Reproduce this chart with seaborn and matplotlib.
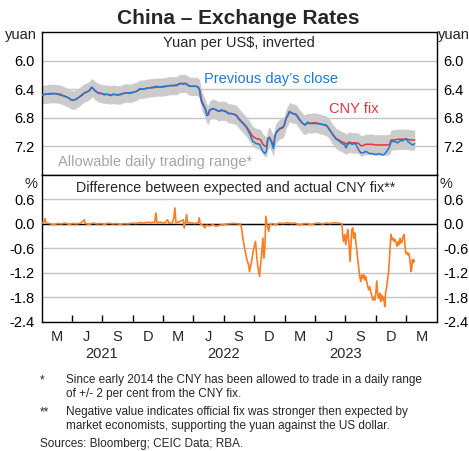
import numpy as np
import pandas as pd
import matplotlib
matplotlib.use("Agg")
import matplotlib.pyplot as plt
import matplotlib.dates as mdates
import seaborn as sns

# ---------------- data ----------------
top_dates = [
    "2021-01-01", "2021-01-12", "2021-01-26", "2021-02-08", "2021-02-25", "2021-03-12", "2021-03-22",
    "2021-04-01", "2021-04-10", "2021-04-16", "2021-04-24", "2021-05-01", "2021-05-10", "2021-05-16",
    "2021-05-24", "2021-05-31", "2021-06-05", "2021-06-10", "2021-06-20", "2021-06-30",
    "2021-07-08", "2021-07-15", "2021-07-28", "2021-08-05", "2021-08-14", "2021-08-24", "2021-09-03",
    "2021-09-13", "2021-09-23",
    "2021-10-05", "2021-10-13", "2021-10-23", "2021-11-02", "2021-11-12", "2021-11-22", "2021-12-02",
    "2021-12-12", "2021-12-22",
    "2022-01-01", "2022-01-11", "2022-01-21", "2022-01-31", "2022-02-10", "2022-02-20", "2022-03-02",
    "2022-03-10", "2022-03-17", "2022-03-25",
    "2022-04-01", "2022-04-10", "2022-04-16", "2022-04-20", "2022-04-23", "2022-04-26", "2022-04-30",
    "2022-05-06", "2022-05-12", "2022-05-16", "2022-05-20", "2022-05-30", "2022-06-09", "2022-06-16",
    "2022-06-24",
    "2022-07-01", "2022-07-09", "2022-07-16", "2022-07-24", "2022-08-01", "2022-08-08", "2022-08-18",
    "2022-08-28", "2022-09-07", "2022-09-17", "2022-09-27",
    "2022-10-07", "2022-10-17", "2022-10-22", "2022-10-27", "2022-11-03", "2022-11-07", "2022-11-11",
    "2022-11-16", "2022-11-21", "2022-11-28", "2022-12-02", "2022-12-06", "2022-12-16", "2022-12-26",
    "2022-12-30",
    "2023-01-05", "2023-01-10", "2023-01-15", "2023-01-25", "2023-02-04", "2023-02-14", "2023-02-24",
    "2023-03-03", "2023-03-11", "2023-03-18", "2023-03-26",
    "2023-04-05", "2023-04-20", "2023-05-05", "2023-05-10", "2023-05-15", "2023-05-25", "2023-06-04",
    "2023-06-12", "2023-06-19", "2023-06-29",
    "2023-07-04", "2023-07-12", "2023-07-22", "2023-08-01", "2023-08-11", "2023-08-17", "2023-08-23",
    "2023-09-02", "2023-09-12", "2023-09-20", "2023-09-27",
    "2023-10-05", "2023-10-12", "2023-10-20", "2023-10-27", "2023-11-06", "2023-11-12", "2023-11-16",
    "2023-11-26", "2023-12-06", "2023-12-14", "2023-12-21", "2023-12-31",
    "2024-01-05", "2024-01-11", "2024-01-16", "2024-01-21", "2024-01-26",
]
close_rate = [
    6.49, 6.47, 6.47, 6.46, 6.48, 6.50, 6.52,
    6.556, 6.55, 6.535, 6.51, 6.49, 6.45, 6.44, 6.42, 6.37, 6.40, 6.42, 6.46, 6.46,
    6.48, 6.47, 6.49, 6.47, 6.48, 6.47, 6.46, 6.45, 6.45,
    6.44, 6.43, 6.39, 6.40, 6.385, 6.38, 6.37, 6.36, 6.37,
    6.36, 6.357, 6.35, 6.347, 6.34, 6.32, 6.33, 6.32, 6.347, 6.36,
    6.357, 6.36, 6.37, 6.42, 6.52, 6.58, 6.62, 6.66, 6.77, 6.75, 6.69, 6.67, 6.69, 6.71, 6.69,
    6.70, 6.72, 6.74, 6.74, 6.75, 6.77, 6.83, 6.88, 6.93, 7.02, 7.13,
    7.16, 7.17, 7.22, 7.27, 7.30, 7.26, 7.09, 7.08, 7.13, 7.23, 7.06, 7.00, 6.95, 6.93, 6.90,
    6.80, 6.76, 6.71, 6.74, 6.76, 6.83, 6.88, 6.90, 6.86, 6.88, 6.88,
    6.88, 6.89, 6.90, 6.93, 6.97, 7.04, 7.10, 7.12, 7.15, 7.18,
    7.22, 7.15, 7.17, 7.16, 7.25, 7.29, 7.29, 7.27, 7.30, 7.30, 7.31,
    7.31, 7.30, 7.32, 7.31, 7.25, 7.20, 7.13, 7.13, 7.15, 7.12, 7.12, 7.09,
    7.13, 7.15, 7.17, 7.18, 7.16,
]
fix_rate = [
    6.48, 6.47, 6.46, 6.46, 6.47, 6.50, 6.52,
    6.55, 6.55, 6.53, 6.51, 6.48, 6.45, 6.44, 6.42, 6.38, 6.39, 6.42, 6.45, 6.46,
    6.47, 6.47, 6.48, 6.47, 6.48, 6.48, 6.46, 6.45, 6.46,
    6.44, 6.43, 6.40, 6.40, 6.39, 6.38, 6.38, 6.37, 6.37,
    6.37, 6.36, 6.35, 6.35, 6.35, 6.32, 6.32, 6.32, 6.35, 6.36,
    6.36, 6.36, 6.37, 6.40, 6.47, 6.55, 6.60, 6.66, 6.74, 6.76, 6.70, 6.67, 6.69, 6.71, 6.70,
    6.70, 6.71, 6.74, 6.74, 6.75, 6.76, 6.82, 6.87, 6.92, 6.99, 7.06,
    7.09, 7.10, 7.12, 7.17, 7.20, 7.20, 7.10, 7.07, 7.12, 7.19, 7.07, 7.01, 6.96, 6.94, 6.91,
    6.81, 6.77, 6.72, 6.74, 6.75, 6.82, 6.88, 6.90, 6.87, 6.88, 6.87,
    6.87, 6.89, 6.91, 6.93, 6.96, 7.03, 7.09, 7.11, 7.13, 7.15,
    7.17, 7.14, 7.15, 7.15, 7.16, 7.19, 7.19, 7.17, 7.17, 7.17, 7.18,
    7.18, 7.18, 7.18, 7.18, 7.18, 7.17, 7.11, 7.11, 7.10, 7.10, 7.10, 7.10,
    7.10, 7.11, 7.11, 7.11, 7.11,
]
BAND = 0.02  # allowable daily trading range: +/- 2 per cent around the fix

diff_dates = [
    "2021-01-01", "2021-01-08", "2021-01-11", "2021-01-14", "2021-01-25", "2021-02-05", "2021-02-18",
    "2021-03-01", "2021-03-12", "2021-03-24", "2021-04-05", "2021-04-16", "2021-04-28", "2021-05-09",
    "2021-05-12", "2021-05-24", "2021-06-04", "2021-06-16", "2021-06-28", "2021-07-09", "2021-07-21",
    "2021-08-02", "2021-08-13", "2021-08-25", "2021-09-06", "2021-09-17", "2021-09-29", "2021-10-11",
    "2021-10-22", "2021-11-03", "2021-11-15", "2021-11-26", "2021-12-06", "2021-12-10", "2021-12-13",
    "2021-12-24", "2022-01-05", "2022-01-14", "2022-01-18", "2022-01-28", "2022-02-01", "2022-02-05",
    "2022-02-08", "2022-02-18", "2022-03-02", "2022-03-05", "2022-03-09", "2022-03-12", "2022-03-15",
    "2022-03-25", "2022-04-05", "2022-04-16", "2022-04-19", "2022-04-22", "2022-05-01", "2022-05-06",
    "2022-05-10", "2022-05-20", "2022-05-30", "2022-06-10", "2022-06-20", "2022-07-01", "2022-07-12",
    "2022-07-25", "2022-08-05", "2022-08-15", "2022-08-20",
    "2022-08-24", "2022-08-28", "2022-09-03", "2022-09-08", "2022-09-14", "2022-09-17", "2022-09-23",
    "2022-09-29", "2022-10-05", "2022-10-09", "2022-10-12", "2022-10-17", "2022-10-21", "2022-10-24",
    "2022-10-27", "2022-10-30", "2022-11-02", "2022-11-05", "2022-11-10", "2022-11-14", "2022-11-17",
    "2022-11-25", "2022-12-05", "2022-12-15", "2022-12-28", "2023-01-10", "2023-01-20", "2023-02-01",
    "2023-02-13", "2023-02-24", "2023-03-08", "2023-03-20", "2023-04-01", "2023-04-12", "2023-04-24",
    "2023-05-05", "2023-05-17", "2023-05-29", "2023-06-09", "2023-06-19",
    "2023-06-22", "2023-06-23", "2023-06-26", "2023-06-30", "2023-07-03", "2023-07-06", "2023-07-09",
    "2023-07-12", "2023-07-16", "2023-07-19", "2023-07-21", "2023-07-24", "2023-07-27", "2023-07-30",
    "2023-08-02", "2023-08-05", "2023-08-08", "2023-08-11", "2023-08-14", "2023-08-17", "2023-08-20",
    "2023-08-23", "2023-08-26", "2023-08-29", "2023-09-01", "2023-09-04", "2023-09-07", "2023-09-10",
    "2023-09-13", "2023-09-16", "2023-09-19", "2023-09-22", "2023-09-25", "2023-09-28", "2023-10-01",
    "2023-10-04", "2023-10-07", "2023-10-10", "2023-10-13", "2023-10-16", "2023-10-19", "2023-10-22",
    "2023-10-25", "2023-10-28", "2023-10-31", "2023-11-03", "2023-11-06", "2023-11-09", "2023-11-12",
    "2023-11-14", "2023-11-16", "2023-11-19", "2023-11-22", "2023-11-25", "2023-11-28", "2023-12-01",
    "2023-12-04", "2023-12-07", "2023-12-10", "2023-12-13", "2023-12-16", "2023-12-19", "2023-12-22",
    "2023-12-25", "2023-12-28", "2023-12-30", "2024-01-02", "2024-01-05", "2024-01-08", "2024-01-11",
    "2024-01-13", "2024-01-15", "2024-01-17", "2024-01-19", "2024-01-21", "2024-01-23", "2024-01-25",
]
fix_surprise = [
    0.02, 0.05, 0.13, 0.02, 0.01, -0.02, 0.01,
    0.00, 0.02, -0.01, 0.01, 0.00, 0.02, 0.10,
    0.01, -0.01, 0.02, 0.00, 0.01, -0.01, 0.02,
    0.00, 0.01, -0.01, 0.01, 0.00, 0.02, 0.01,
    0.03, 0.02, 0.04, 0.03, 0.04, 0.27, 0.03,
    0.04, 0.02, 0.10, 0.02, 0.03, 0.12, 0.39,
    0.03, 0.05, 0.10, -0.10, 0.05, 0.23, 0.02,
    0.03, 0.01, 0.03, 0.15, 0.00, -0.04, -0.10,
    -0.03, -0.05, -0.02, -0.06, -0.03, -0.02, 0.00,
    0.01, 0.01, 0.00, 0.00,
    -0.10, -0.35, -0.63, -0.84, -1.00, -1.17, -0.92,
    -0.63, -0.43, -0.83, -1.05, -1.29, -0.92, -0.68,
    -0.35, -0.84, -0.60, 0.19, -0.06, -0.18, -0.02,
    0.01, -0.02, 0.02, 0.01, 0.03, 0.01, 0.02,
    -0.03, 0.00, 0.01, -0.02, 0.01, 0.02, 0.00,
    0.02, 0.01, 0.03, 0.02, 0.01,
    0.00, -0.22, -0.43, -0.26, -0.51, -0.31, -0.14,
    -0.43, -0.92, -0.47, -0.14, -0.10, -0.35, -0.22,
    -0.43, -0.63, -0.88, -1.09, -1.29, -1.42, -1.25,
    -1.33, -1.25, -1.38, -1.29, -1.42, -1.54, -1.62,
    -1.54, -1.66, -1.75, -1.87, -1.80, -1.87, -1.70,
    -1.40, -1.75, -1.83, -1.70, -1.91, -1.75, -1.87,
    -1.79, -2.03, -1.66, -1.54, -1.33, -1.13, -0.72,
    -0.47, -0.26, -0.39, -0.35, -0.43, -0.38, -0.47,
    -0.55, -0.43, -0.51, -0.35, -0.47, -0.43, -0.31,
    -0.26, -0.55, -0.72, -0.70, -0.76, -0.72, -0.84,
    -1.00, -1.17, -1.09, -0.88, -0.96, -0.88, -0.92,
]

top_ticks = [6.0, 6.4, 6.8, 7.2]
bottom_ticks = [0.6, 0.0, -0.6, -1.2, -1.8, -2.4]
month_labels = ["M", "J", "S", "D", "M", "J", "S", "D", "M", "J", "S", "D", "M"]
year_labels = ["2021", "2022", "2023"]

# ---------------- style ----------------
sns.set_style("white")
plt.rcParams['font.family'] = ['Liberation Sans', 'DejaVu Sans']

BLUE = '#1f7ad6'
RED = '#e8323c'
ORANGE = '#fb7d22'
BANDC = '#cbcbcb'
GRID = '#c4c4c4'
TGRAY = '#a5a5a5'

W, H = 469, 451
fig = plt.figure(figsize=(W / 100, H / 100), dpi=100)


def fx(p):
    return p / W


def fy(p):
    return 1 - p / H


L, R = 41.7, 436.7
T1, B1, B2 = 32, 175, 321.7
ax1 = fig.add_axes([fx(L), fy(B1), (R - L) / W, (B1 - T1) / H])
ax2 = fig.add_axes([fx(L), fy(B2), (R - L) / W, (B2 - B1) / H])

top = pd.DataFrame({'date': pd.to_datetime(top_dates), 'close': close_rate, 'fix': fix_rate})
top['lo'] = top['fix'] * (1 - BAND)
top['hi'] = top['fix'] * (1 + BAND)
bot = pd.DataFrame({'date': pd.to_datetime(diff_dates), 'diff': fix_surprise})

# top panel
ax1.fill_between(top['date'], top['lo'], top['hi'], color=BANDC, lw=0, zorder=1)
sns.lineplot(data=top, x='date', y='fix', ax=ax1, color=RED, lw=1.1, zorder=3)
sns.lineplot(data=top, x='date', y='close', ax=ax1, color=BLUE, lw=1.1, zorder=4)

# bottom panel
ax2.axhline(0, color='black', lw=1.0, zorder=2)
sns.lineplot(data=bot, x='date', y='diff', ax=ax2, color=ORANGE, lw=1.2, zorder=4)

xmin, xmax = pd.Timestamp('2021-01-01'), pd.Timestamp('2024-04-01')
major = [pd.Timestamp(y, m, 1) for y in (2021, 2022, 2023, 2024) for m in (1, 4, 7, 10)]
major = [d for d in major if xmin < d < xmax]
minor = [pd.Timestamp(y, m, 15) for y in (2021, 2022, 2023, 2024) for m in (2, 5, 8, 11)]
minor = minor[:len(month_labels)]

for ax in (ax1, ax2):
    ax.set_xlim(xmin, xmax)
    ax.set_xlabel('')
    ax.set_ylabel('')
    for s in ax.spines.values():
        s.set_color('black')
        s.set_linewidth(1.0)
    ax.set_axisbelow(True)
    ax.yaxis.grid(True, color=GRID, lw=1.0)
    ax.xaxis.grid(False)
    ax.tick_params(axis='y', left=False, right=False, labelleft=True, labelright=True,
                   labelsize=10.5, pad=1.5, colors='black')

ax1.set_ylim(7.6, 5.6)
ax1.set_yticks(top_ticks)
ax1.set_yticklabels([f"{v:.1f}" for v in top_ticks])
ax1.tick_params(axis='x', bottom=False, labelbottom=False)
ax1.set_xticks([])

ax2.set_ylim(-2.4, 1.2)
ax2.set_yticks(bottom_ticks)
ax2.set_yticklabels([f"{v:.1f}" for v in bottom_ticks])
ax2.set_xticks(mdates.date2num(major))
ax2.set_xticklabels([])
ax2.set_xticks(mdates.date2num(minor), minor=True)
ax2.set_xticklabels(month_labels, minor=True)
ax2.tick_params(axis='x', which='major', direction='in', length=5, width=1.0, color='black', bottom=True)
ax2.tick_params(axis='x', which='minor', length=0, pad=6, labelsize=10.5)

for i, yl in enumerate(year_labels):
    ax2.annotate(yl, xy=(mdates.date2num(pd.Timestamp(int(yl), 7, 1)), 0),
                 xycoords=('data', 'axes fraction'), xytext=(0, -26), textcoords='offset points',
                 ha='center', va='baseline', fontsize=10.5)

# texts
fig.text(fx(238), fy(24), 'China – Exchange Rates', ha='center', va='baseline',
         fontsize=15, fontweight='bold')
fig.text(fx(239), fy(46.7), r'Yuan per US\$, inverted', ha='center', va='baseline', fontsize=10.5)
fig.text(fx(37), fy(39), 'yuan', ha='right', va='baseline', fontsize=10.5)
fig.text(fx(438), fy(39), 'yuan', ha='left', va='baseline', fontsize=10.5)
fig.text(fx(204), fy(82.7), 'Previous day’s close', color=BLUE, ha='left', va='baseline', fontsize=10.5)
fig.text(fx(329.3), fy(113.3), 'CNY fix', color=RED, ha='left', va='baseline', fontsize=10.5)
fig.text(fx(57.7), fy(165.7), 'Allowable daily trading range*', color=TGRAY, ha='left',
         va='baseline', fontsize=10.5)
fig.text(fx(37), fy(188.5), '%', ha='right', va='baseline', fontsize=10.5)
fig.text(fx(439), fy(188.5), '%', ha='left', va='baseline', fontsize=10.5)
fig.text(fx(235.5), fy(192.3), 'Difference between expected and actual CNY fix**', ha='center',
         va='baseline', fontsize=10.3)

FN = 8.5
fig.text(fx(40), fy(383.3), '*', ha='left', va='baseline', fontsize=FN)
fig.text(fx(65.7), fy(383.3), 'Since early 2014 the CNY has been allowed to trade in a daily range',
         ha='left', va='baseline', fontsize=FN)
fig.text(fx(65.7), fy(396.7), 'of +/- 2 per cent from the CNY fix.', ha='left', va='baseline', fontsize=FN)
fig.text(fx(40), fy(415), '**', ha='left', va='baseline', fontsize=FN)
fig.text(fx(65.7), fy(415), 'Negative value indicates official fix was stronger then expected by',
         ha='left', va='baseline', fontsize=FN)
fig.text(fx(65.7), fy(429), 'market economists, supporting the yuan against the US dollar.',
         ha='left', va='baseline', fontsize=FN)
fig.text(fx(40), fy(447.3), 'Sources: Bloomberg; CEIC Data; RBA.', ha='left', va='baseline', fontsize=FN)

fig.savefig('out.png', dpi=100)
